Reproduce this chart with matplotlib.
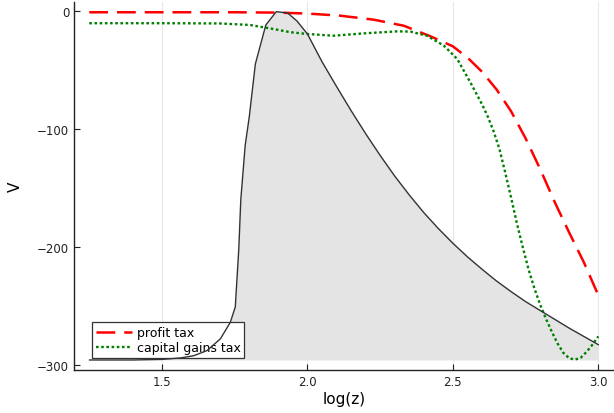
import numpy as np
import matplotlib
matplotlib.use("Agg")
import matplotlib.pyplot as plt

# density of log(z) (scaled into V units)
dens_x = [1.251, 1.40, 1.50, 1.563, 1.609, 1.655, 1.701, 1.735, 1.752, 1.764,
          1.771, 1.786, 1.800, 1.821, 1.857, 1.893, 1.932, 1.964, 2.0, 2.05,
          2.10, 2.15, 2.20, 2.25, 2.30, 2.35, 2.40, 2.45, 2.50, 2.55,
          2.60, 2.65, 2.70, 2.75, 2.80, 2.85, 2.90, 2.95, 3.0]
dens_y = [-296, -296, -295.5, -294.3, -292.4, -288, -278, -264, -251, -202,
          -160, -114, -90, -45, -11.9, -0.6, -1.7, -8.5, -19.5, -43,
          -64, -84.5, -104, -122.5, -140, -156, -171, -184.5, -197, -208.5,
          -219, -229, -238, -246.5, -254, -261.5, -269, -276, -283]
base = -296

# value function, profit tax
pt_x = [1.25, 1.50, 1.75, 1.90, 2.00, 2.113, 2.228, 2.331, 2.423, 2.50, 2.55,
        2.60, 2.65, 2.70, 2.75, 2.80, 2.85, 2.90, 2.95, 3.0]
pt_y = [-1.1, -1.1, -1.1, -1.4, -2.2, -4.0, -7.4, -12.5, -21.5, -30, -39.5,
        -51.5, -66.5, -85, -108, -134, -162, -188, -213, -241]

# value function, capital gains tax
cg_x = [1.25, 1.50, 1.70, 1.803, 1.883, 1.941, 1.998, 2.09, 2.194, 2.309, 2.354,
        2.411, 2.469, 2.515, 2.560, 2.60, 2.62, 2.64, 2.66, 2.68, 2.70,
        2.72, 2.74, 2.76, 2.78, 2.80, 2.82, 2.84, 2.86, 2.88, 2.90,
        2.92, 2.94, 2.96, 2.98, 3.0]
cg_y = [-10.4, -10.4, -10.6, -11.9, -15.3, -18, -19.5, -21, -19, -17.3, -17.5,
        -21, -29.4, -40.7, -60.5, -79, -89.5, -102, -117, -137, -158,
        -180, -200, -219, -235, -249, -261, -272, -282, -290, -294.5,
        -295.7, -294, -289, -283, -276]

xticks = [1.5, 2.0, 2.5, 3.0]
yticks = [0, -100, -200, -300]

fig = plt.figure(figsize=(6.14, 4.14), dpi=100)
ax = fig.add_axes([74 / 614, 1 - 371 / 414, 540 / 614, 368 / 414])

ax.fill_between(dens_x, base, dens_y, color="#e4e4e4", lw=0, zorder=1)
ax.plot(pt_x, pt_y, color="#ff0000", lw=1.8, dashes=(7.5, 3.6), label="profit tax", zorder=3)
ax.plot(cg_x, cg_y, color="#008000", lw=1.7, dashes=(1.1, 1.1),
        label="capital gains tax", zorder=3)
# in the source the density outline sits above the legend box
ax.plot(dens_x, dens_y, color="#2f3338", lw=1.0, zorder=6)

ax.set_xlim(1.1975, 3.054)
ax.set_ylim(-304.5, 7.6)
ax.set_xticks(xticks)
ax.set_xticklabels([f"{t:.1f}" for t in xticks])
ax.set_yticks(yticks)
ax.set_yticklabels(["0", "\u2212100", "\u2212200", "\u2212300"])
ax.tick_params(direction="in", length=4, width=0.8, labelsize=8.5, colors="#222222")
ax.grid(axis="x", color="#e8e8e8", lw=0.8, zorder=0)
ax.set_axisbelow(True)
for s in ("top", "right"):
    ax.spines[s].set_visible(False)
for s in ("left", "bottom"):
    ax.spines[s].set_color("#222222")
    ax.spines[s].set_linewidth(1.0)

ax.set_xlabel("log(z)", fontsize=11, labelpad=2)
ax.set_ylabel("V", fontsize=11, labelpad=10)

leg = ax.legend(loc="lower left", bbox_to_anchor=(0.033, 0.032), borderaxespad=0,
                fontsize=9, fancybox=False, framealpha=1, edgecolor="#333333",
                handlelength=2.9, handletextpad=0.4, borderpad=0.3, labelspacing=0.2)
leg.get_frame().set_linewidth(0.9)
leg.set_zorder(5)

fig.savefig("out.png", dpi=100)
